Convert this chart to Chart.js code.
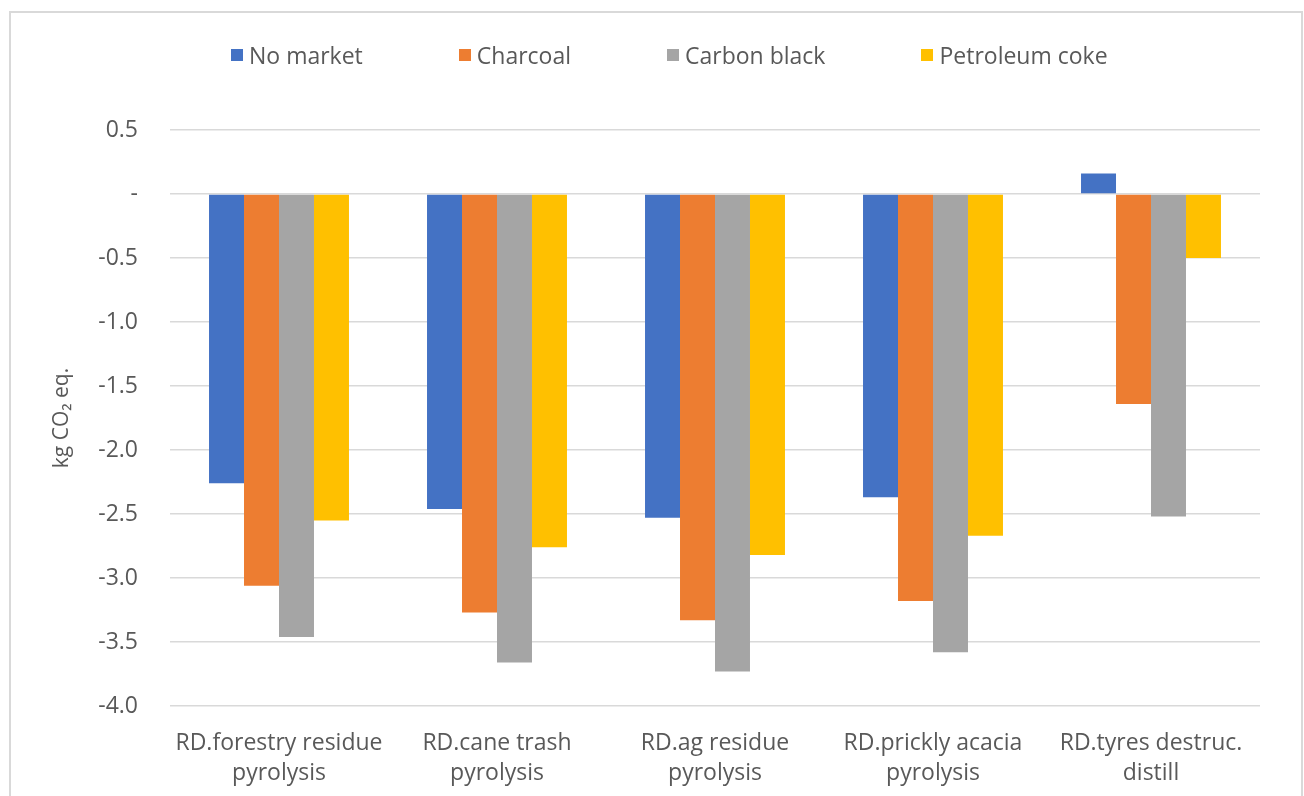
<!DOCTYPE html>
<html>
<head>
<meta charset="utf-8">
<title>Net emissions by co-product market</title>
<script src="https://cdn.jsdelivr.net/npm/chart.js@4.4.1/dist/chart.umd.min.js"></script>
<style>
  html, body { margin: 0; padding: 0; background: #ffffff; }
  #wrap { position: relative; width: 1304px; height: 796px; overflow: hidden; }
  #frame {
    position: absolute; left: 9px; top: 11px; width: 1294px; height: 820px;
    border: 2px solid #d9d9d9; box-sizing: border-box; pointer-events: none;
  }
  #legend {
    position: absolute; top: 41px; left: 231px; height: 28px;
    display: flex; align-items: center;
    font-family: "Open Sans", "Noto Sans", sans-serif; font-size: 23px; color: #595959;
  }
  #legend .item { display: flex; align-items: center; margin-right: 96px; white-space: nowrap; }
  #legend .sw { width: 12px; height: 12px; margin-right: 6px; }
  canvas { position: absolute; left: 0; top: 0; }
</style>
</head>
<body>
<div id="wrap">
  <canvas id="chart" width="1304" height="796"></canvas>
  <div id="legend"></div>
  <div id="frame"></div>
</div>
<script>
// Categories (two-line axis labels)
const categories = [
  ['RD.forestry residue', 'pyrolysis'],
  ['RD.cane trash', 'pyrolysis'],
  ['RD.ag residue', 'pyrolysis'],
  ['RD.prickly acacia', 'pyrolysis'],
  ['RD.tyres destruc.', 'distill']
];

// Series values, kg CO2 eq.
const seriesNames = ['No market', 'Charcoal', 'Carbon black', 'Petroleum coke'];
const noMarket    = [-2.26, -2.46, -2.53, -2.37, 0.16];
const charcoal    = [-3.06, -3.27, -3.33, -3.18, -1.64];
const carbonBlack = [-3.46, -3.66, -3.73, -3.58, -2.52];
const petCoke     = [-2.55, -2.76, -2.82, -2.67, -0.50];

// Value axis ticks
const yTicks = [0.5, 0, -0.5, -1.0, -1.5, -2.0, -2.5, -3.0, -3.5, -4.0];

const seriesColors = ['#4472C4', '#ED7D31', '#A5A5A5', '#FFC000'];
const seriesValues = [noMarket, charcoal, carbonBlack, petCoke];

const textColor = '#595959';
const gridColor = '#d9d9d9';
const uiFont = '"Open Sans", "Noto Sans", sans-serif';

// HTML legend built from the chart's datasets
const htmlLegend = {
  id: 'htmlLegend',
  afterUpdate(chart) {
    const box = document.getElementById('legend');
    box.innerHTML = '';
    chart.data.datasets.forEach(ds => {
      const item = document.createElement('div');
      item.className = 'item';
      const sw = document.createElement('span');
      sw.className = 'sw';
      sw.style.background = ds.backgroundColor;
      const label = document.createElement('span');
      label.textContent = ds.label;
      item.appendChild(sw);
      item.appendChild(label);
      box.appendChild(item);
    });
  }
};

new Chart(document.getElementById('chart'), {
  type: 'bar',
  data: {
    labels: categories,
    datasets: seriesNames.map((name, i) => ({
      label: name,
      data: seriesValues[i],
      backgroundColor: seriesColors[i],
      borderWidth: 0,
      categoryPercentage: 0.642,
      barPercentage: 1.0
    }))
  },
  options: {
    responsive: false,
    devicePixelRatio: 1,
    animation: false,
    layout: { padding: { top: 130, left: 30, right: 44, bottom: 10 } },
    plugins: {
      legend: { display: false },
      tooltip: { enabled: false }
    },
    scales: {
      x: {
        grid: { display: false, drawTicks: false },
        border: { display: false },
        ticks: {
          color: textColor,
          padding: 22,
          maxRotation: 0,
          autoSkip: false,
          font: { family: uiFont, size: 23, lineHeight: '30px' }
        },
        afterFit(scale) { scale.height = 80; }
      },
      y: {
        min: -4.0,
        max: 0.5,
        afterBuildTicks(scale) { scale.ticks = yTicks.map(v => ({ value: v })); },
        grid: { color: gridColor, lineWidth: 1.5, drawTicks: false },
        border: { display: false },
        ticks: {
          color: textColor,
          padding: 32,
          font: { family: uiFont, size: 23 },
          callback(v) { return Math.abs(v) < 1e-9 ? '-' : Number(v).toFixed(1); }
        },
        title: {
          display: true,
          text: 'kg CO\u2082 eq.',
          color: textColor,
          padding: { top: 19, bottom: 0 },
          font: { family: uiFont, size: 21 }
        },
        afterFit(scale) { scale.width = 140; }
      }
    }
  },
  plugins: [htmlLegend]
});
</script>
</body>
</html>
